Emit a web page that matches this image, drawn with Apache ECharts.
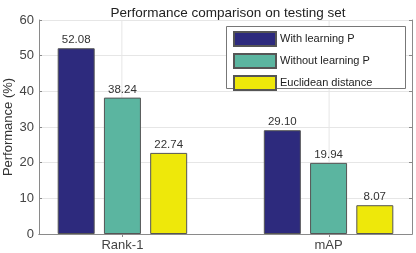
<!DOCTYPE html>
<html><head><meta charset="utf-8">
<script src="https://cdn.jsdelivr.net/npm/echarts@6/dist/echarts.min.js"></script>
<style>html,body{margin:0;padding:0;background:#fff}#c{width:416px;height:253px}</style>
</head><body><div id="c"></div>
<script>
const categories = ['Rank-1', 'mAP'];
const seriesNames = ['With learning P', 'Without learning P', 'Euclidean distance'];
const withLearning = [52.08, 29.10];
const withoutLearning = [38.24, 19.94];
const euclidean = [22.74, 8.07];
const yTicks = [0, 10, 20, 30, 40, 50, 60];
const colors = ['#2d2a7d', '#5bb5a0', '#eee80a'];
const FONT = 'Liberation Sans, Arial, sans-serif';

// The x range runs from 0.6 to 2.4 category units. Bottom axis (with bars): 38 bands, categories at bands 8 and 29.
const bandCount = 38;
const catBands = [8, 29];
const bandNames = Array.from({ length: bandCount }, (_, i) => {
  const k = catBands.indexOf(i);
  return k >= 0 ? categories[k] : ' ' + i;
});
// Top axis (frame + vertical grid): value axis from 0.6 to 2.4, categories at 1 and 2.
const catPositions = [1, 2];
const yMin = yTicks[0], yMax = yTicks[yTicks.length - 1];

function mk(name, vals, color) {
  return {
    name, type: 'bar', xAxisIndex: 0, yAxisIndex: 0, z: 3,
    data: vals.map((v, i) => [catBands[i], v]),
    barWidth: 37, barGap: '25%',
    itemStyle: { color, borderColor: '#555', borderWidth: 1 },
    label: { show: true, position: 'top', distance: 2, fontSize: 11.5, color: '#333', fontFamily: FONT,
      formatter: p => p.value[1].toFixed(2) }
  };
}
const chart = echarts.init(document.getElementById('c'), null, { renderer: 'canvas' });
const gridData = [];
catPositions.forEach((x, i) => {
  if (i > 0) gridData.push([x, '-']);
  gridData.push([x, yMin], [x, yMax]);
});
const series = [
  { name: 'vgrid', type: 'line', xAxisIndex: 1, yAxisIndex: 0, z: 1, silent: true,
    data: gridData, showSymbol: false, symbol: 'none', connectNulls: false,
    lineStyle: { color: '#e6e6e6', width: 1 }, tooltip: { show: false } },
  mk(seriesNames[0], withLearning, colors[0]),
  mk(seriesNames[1], withoutLearning, colors[1]),
  mk(seriesNames[2], euclidean, colors[2])
];
const axisCol = '#8a8a8a';
chart.setOption({
  animation: false,
  textStyle: { fontFamily: FONT },
  title: { text: 'Performance comparison on testing set', left: 223, textAlign: 'center', top: 1,
    textStyle: { fontSize: 13.5, fontWeight: 'normal', color: '#222', fontFamily: FONT } },
  grid: { left: 39, right: 4, top: 20, bottom: 19, containLabel: false, outerBoundsMode: 'none' },
  legend: {
    data: seriesNames, orient: 'vertical', left: 233, top: 31, padding: 0,
    itemWidth: 42, itemHeight: 14, itemGap: 6, icon: 'rect',
    textStyle: { fontSize: 11, color: '#222', fontFamily: FONT, padding: [0, 0, 0, -1] }
  },
  graphic: [{ type: 'rect', left: 226, top: 26, shape: { width: 179, height: 62 },
    style: { fill: '#fff', stroke: '#777', lineWidth: 1 }, z: 4 }],
  xAxis: [{
    type: 'category', data: bandNames, position: 'bottom',
    axisLine: { show: true, lineStyle: { color: axisCol } },
    axisTick: { show: true, inside: true, length: 3, alignWithLabel: true, interval: (i) => catBands.includes(i), lineStyle: { color: axisCol } },
    axisLabel: { interval: (i) => catBands.includes(i), fontSize: 13, color: '#444', margin: 5, fontFamily: FONT },
    splitLine: { show: false }
  }, {
    type: 'value', min: 0.6, max: 2.4, position: 'top',
    axisLine: { show: true, lineStyle: { color: axisCol } },
    axisTick: { show: true, inside: true, length: 3, customValues: catPositions, lineStyle: { color: axisCol } },
    axisLabel: { show: false, customValues: catPositions },
    splitLine: { show: false }
  }],
  yAxis: [{
    type: 'value', min: 0, max: 60, interval: 10, position: 'left',
    name: 'Performance (%)', nameLocation: 'middle', nameGap: 24, nameMoveOverlap: false,
    nameTextStyle: { fontSize: 13, color: '#333', fontFamily: FONT },
    axisLine: { show: true, lineStyle: { color: axisCol } },
    axisTick: { show: true, inside: true, length: 3, lineStyle: { color: axisCol } },
    axisLabel: { fontSize: 13, color: '#444', margin: 5, fontFamily: FONT, formatter: v => yTicks.includes(v) ? String(v) : '' },
    splitLine: { show: true, lineStyle: { color: '#e6e6e6' } }
  }, {
    type: 'value', min: 0, max: 60, interval: 10, position: 'right',
    axisLine: { show: true, lineStyle: { color: axisCol } },
    axisTick: { show: true, inside: true, length: 3, lineStyle: { color: axisCol } },
    axisLabel: { show: false }, splitLine: { show: false }
  }],
  series
});
</script></body></html>
